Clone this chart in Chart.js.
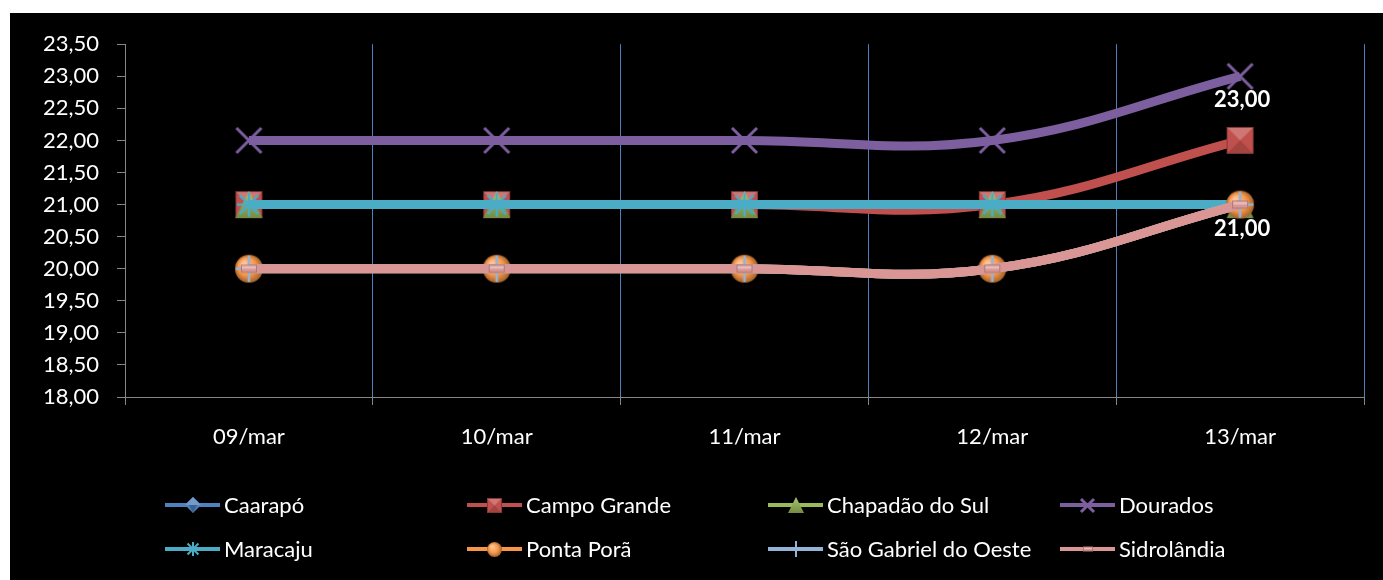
<!DOCTYPE html>
<html>
<head>
<meta charset="utf-8">
<script src="https://cdn.jsdelivr.net/npm/chart.js@4/dist/chart.umd.min.js"></script>
<style>
  html, body { margin: 0; padding: 0; background: #ffffff; }
  #frame { position: absolute; left: 10px; top: 13px; width: 1373px; height: 567px; background: #000000; }
  #chart { display: block; }
</style>
</head>
<body>
<div id="frame"><canvas id="chart" width="1373" height="567"></canvas></div>
<script>
// Preço médio diário por município (R$)
const categories = ['09/mar', '10/mar', '11/mar', '12/mar', '13/mar'];

const caarapo       = [21, 21, 21, 21, 21];
const campoGrande   = [21, 21, 21, 21, 22];
const chapadaoDoSul = [21, 21, 21, 21, 21];
const dourados      = [22, 22, 22, 22, 23];
const maracaju      = [21, 21, 21, 21, 21];
const pontaPora     = [20, 20, 20, 20, 21];
const saoGabriel    = [20, 20, 20, 20, 21];
const sidrolandia   = [20, 20, 20, 20, 21];

const seriesNames = ['Caarapó', 'Campo Grande', 'Chapadão do Sul', 'Dourados',
                     'Maracaju', 'Ponta Porã', 'São Gabriel do Oeste', 'Sidrolândia'];
const seriesValues = [caarapo, campoGrande, chapadaoDoSul, dourados,
                      maracaju, pontaPora, saoGabriel, sidrolandia];

const yTicks = { min: 18, max: 23.5, step: 0.5 };

// points that carry a value label: [series name, category index]
const labelledPoints = [['Dourados', 4], ['Sidrolândia', 4]];

const FONT = 'Lato, "Open Sans", sans-serif';
const FONT_SIZE = 22;
const fmt = v => Number(v).toFixed(2).replace('.', ',');

// ---- styling -------------------------------------------------------------
const lineColors = ['#4F81BD', '#C0504D', '#9BBB59', '#7D5FA0',
                    '#4BACC6', '#F79646', '#95B3D7', '#D99694'];
const markerKinds = ['diamond', 'square', 'triangle', 'x', 'star', 'circle', 'plus', 'bar'];

function shade(hex, amt) {
  const n = parseInt(hex.slice(1), 16);
  let r = (n >> 16) & 255, g = (n >> 8) & 255, b = n & 255;
  const f = c => amt >= 0 ? Math.round(c + (255 - c) * amt) : Math.round(c * (1 + amt));
  return `rgb(${f(r)},${f(g)},${f(b)})`;
}

// Builds a small bevelled marker image
function makeMarker(kind, color, s) {
  const pad = 3;
  const cv = document.createElement('canvas');
  const w = kind === 'bar' ? Math.round(s * 1.2) : s;
  cv.width = w + pad * 2; cv.height = s + pad * 2;
  const c = cv.getContext('2d');
  const cx = cv.width / 2, cy = cv.height / 2, h = s / 2;
  c.lineJoin = 'miter';
  if (kind === 'diamond') {
    c.beginPath(); c.moveTo(cx, cy - h); c.lineTo(cx + h, cy); c.lineTo(cx, cy + h); c.lineTo(cx - h, cy); c.closePath();
    c.fillStyle = color; c.fill();
    c.beginPath(); c.moveTo(cx, cy - h); c.lineTo(cx + h, cy); c.lineTo(cx - h, cy); c.closePath();
    c.fillStyle = shade(color, 0.2); c.fill();
    c.beginPath(); c.moveTo(cx - h * 0.5, cy); c.lineTo(cx, cy + h); c.lineTo(cx + h * 0.5, cy); c.closePath();
    c.fillStyle = shade(color, -0.25); c.fill();
  } else if (kind === 'square') {
    const x0 = cx - h, y0 = cy - h;
    c.fillStyle = color; c.fillRect(x0, y0, s, s);
    c.beginPath(); c.moveTo(x0, y0); c.lineTo(x0 + s, y0); c.lineTo(cx, cy); c.closePath();
    c.fillStyle = shade(color, 0.22); c.fill();
    c.beginPath(); c.moveTo(x0, y0 + s); c.lineTo(x0 + s, y0 + s); c.lineTo(cx, cy); c.closePath();
    c.fillStyle = shade(color, -0.15); c.fill();
    c.strokeStyle = shade(color, -0.3); c.lineWidth = 1; c.strokeRect(x0 + 0.5, y0 + 0.5, s - 1, s - 1);
  } else if (kind === 'triangle') {
    c.beginPath(); c.moveTo(cx, cy - h); c.lineTo(cx + h, cy + h); c.lineTo(cx - h, cy + h); c.closePath();
    const g = c.createLinearGradient(0, cy - h, 0, cy + h);
    g.addColorStop(0, shade(color, 0.15)); g.addColorStop(1, shade(color, -0.25));
    c.fillStyle = g; c.fill();
  } else if (kind === 'circle') {
    const g = c.createRadialGradient(cx - h * 0.35, cy - h * 0.4, h * 0.1, cx, cy, h);
    g.addColorStop(0, shade(color, 0.45)); g.addColorStop(0.6, color); g.addColorStop(1, shade(color, -0.35));
    c.beginPath(); c.arc(cx, cy, h, 0, Math.PI * 2); c.fillStyle = g; c.fill();
  } else if (kind === 'bar') {
    const bw = w, bh = Math.round(s * 0.6);
    const x0 = cx - bw / 2, y0 = cy - bh / 2;
    c.fillStyle = shade(color, -0.2); c.fillRect(x0, y0, bw, bh);
    c.fillStyle = shade(color, 0.35); c.fillRect(x0 + 1, y0 + 1, bw - 2, bh / 2);
    c.fillStyle = color; c.fillRect(x0 + 1, y0 + bh / 2, bw - 2, bh / 2 - 1);
  } else {
    c.strokeStyle = color; c.lineWidth = kind === 'x' ? 3 : Math.max(2, s / 10); c.lineCap = 'butt';
    // straight arms reach the box edge; diagonal arms of the X reach its corners
    const seg = (a, len) => { c.moveTo(cx - Math.cos(a) * len, cy - Math.sin(a) * len); c.lineTo(cx + Math.cos(a) * len, cy + Math.sin(a) * len); };
    c.beginPath();
    if (kind === 'x') { seg(Math.PI / 4, h * Math.SQRT2); seg(-Math.PI / 4, h * Math.SQRT2); }
    if (kind === 'star') { seg(Math.PI / 4, h * 1.1); seg(-Math.PI / 4, h * 1.1); }
    if (kind === 'plus' || kind === 'star') { seg(0, h); seg(Math.PI / 2, h); }
    c.stroke();
  }
  return cv;
}

const plotMarkerSize = { diamond: 26, square: 27, triangle: 27, x: 25, star: 24, circle: 28, plus: 26, bar: 13 };
const legendMarkerSize = { diamond: 16, square: 15, triangle: 16, x: 13, star: 14, circle: 15, plus: 16, bar: 8 };

const datasets = seriesNames.map((name, i) => ({
  label: name,
  data: seriesValues[i],
  borderColor: lineColors[i],
  backgroundColor: lineColors[i],
  borderWidth: 9,
  tension: 0.4,
  pointStyle: makeMarker(markerKinds[i], lineColors[i], plotMarkerSize[markerKinds[i]]),
  legendMarker: makeMarker(markerKinds[i], lineColors[i], legendMarkerSize[markerKinds[i]]),
  pointRadius: 10,
  pointHoverRadius: 10,
  order: seriesNames.length - i   // later series are painted on top
}));

// Legend laid out as a fixed 4-column grid under the axis
const gridLegend = {
  id: 'gridLegend',
  afterDraw(chart) {
    const ctx = chart.ctx;
    const colX = [155, 457, 758, 1050];
    const rowY = [492, 536];
    ctx.save();
    ctx.font = `${FONT_SIZE}px ${FONT}`;
    ctx.textBaseline = 'middle';
    ctx.textAlign = 'left';
    chart.data.datasets.forEach((ds, i) => {
      const x = colX[i % 4], y = rowY[Math.floor(i / 4)];
      ctx.strokeStyle = ds.borderColor; ctx.lineWidth = 4; ctx.lineCap = 'butt';
      ctx.beginPath(); ctx.moveTo(x, y); ctx.lineTo(x + 55, y); ctx.stroke();
      const m = ds.legendMarker;
      ctx.drawImage(m, Math.round(x + 27.5 - m.width / 2), Math.round(y - m.height / 2));
      ctx.fillStyle = '#ffffff';
      ctx.fillText(ds.label, x + 59, y + 1);
    });
    ctx.restore();
  }
};

// Value labels under selected points
const pointLabels = {
  id: 'pointLabels',
  afterDatasetsDraw(chart) {
    const ctx = chart.ctx;
    ctx.save();
    ctx.font = `bold ${FONT_SIZE}px ${FONT}`;
    ctx.fillStyle = '#ffffff';
    ctx.textAlign = 'center';
    ctx.textBaseline = 'middle';
    labelledPoints.forEach(([name, idx]) => {
      const di = chart.data.datasets.findIndex(d => d.label === name);
      const el = chart.getDatasetMeta(di).data[idx];
      ctx.fillText(fmt(chart.data.datasets[di].data[idx]), el.x + 2, el.y + 24);
    });
    ctx.restore();
  }
};

new Chart(document.getElementById('chart'), {
  type: 'line',
  data: { labels: categories, datasets },
  plugins: [gridLegend, pointLabels],
  options: {
    responsive: false,
    animation: false,
    layout: { padding: { left: 0, top: 30, right: 18, bottom: 0 } },
    plugins: { legend: { display: false }, tooltip: { enabled: false } },
    scales: {
      x: {
        offset: true,
        grid: { offset: true, color: '#4F81BD', lineWidth: 1, tickColor: '#868686', tickLength: 8, drawTicks: true },
        border: { color: '#868686', width: 1 },
        ticks: { color: '#ffffff', font: { family: FONT, size: FONT_SIZE }, padding: 19, maxRotation: 0, autoSkip: false },
        afterFit(scale) { scale.height = 183; }
      },
      y: {
        min: yTicks.min, max: yTicks.max,
        grid: { drawOnChartArea: false, color: '#868686', tickLength: 8 },
        border: { color: '#868686', width: 1 },
        ticks: { stepSize: yTicks.step, color: '#ffffff', font: { family: FONT, size: FONT_SIZE }, padding: 18, callback: v => fmt(v) },
        afterFit(scale) { scale.width = 115; }
      }
    }
  }
});
</script>
</body>
</html>
